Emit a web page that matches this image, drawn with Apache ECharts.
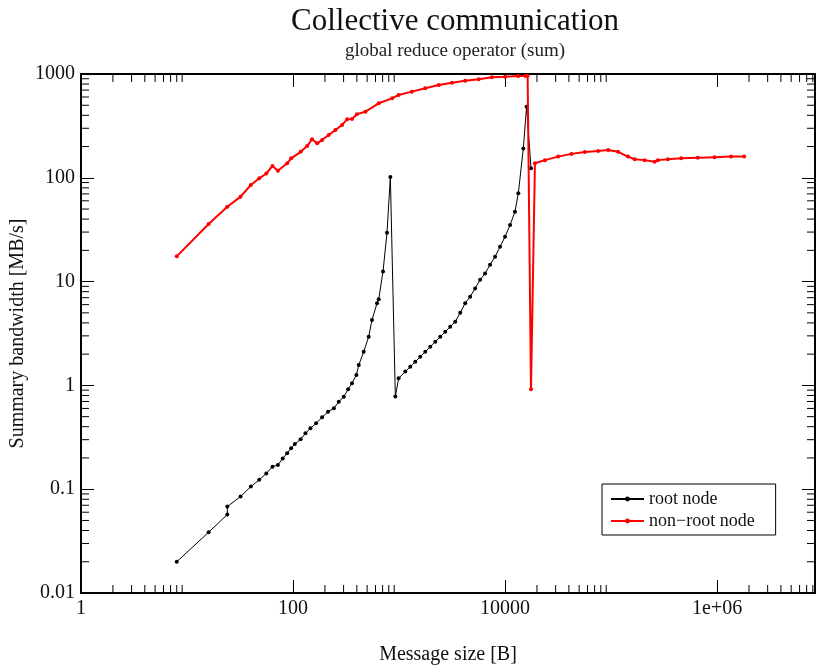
<!DOCTYPE html>
<html>
<head>
<meta charset="utf-8">
<script src="https://cdn.jsdelivr.net/npm/echarts@6/dist/echarts.min.js"></script>
<style>
    html, body { margin: 0; padding: 0; background: #fff; }
    #chart { width: 820px; height: 665px; }
</style>
</head>
<body>
<div id="chart"></div>
<script>
// Root node: message size [B] and bandwidth [MB/s]
const rootSize = [8, 16, 24, 24, 32, 40, 48, 56, 64, 72, 80, 88, 96, 104, 118, 131, 146, 165, 188, 214,
    243, 270, 301, 331, 360, 396, 417, 464, 517, 556, 620, 643, 706, 770, 828,
    923, 991, 1146, 1277, 1423, 1586, 1767, 1971, 2197, 2449, 2729, 3041, 3388, 3776, 4207,
    4688, 5221, 5818, 6484, 7226, 8052, 8974, 10000, 11150, 12400, 13340, 14870, 15960, 17570];
const rootBw = [0.02, 0.0385, 0.057, 0.068, 0.085, 0.106, 0.123, 0.142, 0.165, 0.171, 0.198, 0.222, 0.248, 0.272, 0.303, 0.345, 0.386, 0.431, 0.492, 0.558,
    0.601, 0.697, 0.778, 0.917, 1.05, 1.26, 1.57, 2.11, 2.94, 4.27, 6.18, 6.75, 12.5, 29.6, 102,
    0.78, 1.17, 1.36, 1.51, 1.69, 1.89, 2.11, 2.36, 2.64, 2.94, 3.29, 3.67, 4.11, 5.0, 6.18,
    7.16, 8.6, 10.4, 12.0, 14.5, 17.4, 21.7, 27.1, 35.1, 47.1, 70.9, 192, 484, 123.5];

// Non-root node
const nonRootSize = [8, 16, 24, 32, 40, 48, 56, 64, 72, 88, 96, 118, 136, 151, 169, 188, 217, 251, 290, 324,
    360, 400, 482, 643, 860, 991, 1320, 1767, 2370, 3161, 4207, 5630, 7520, 10000, 13340, 15500, 16330,
    17570, 19140, 23780, 31700, 42300, 56600, 75500, 93800, 116500, 144400, 167000, 207500, 257700,
    276800, 343700, 458600, 657900, 946000, 1355000, 1800000];
const nonRootBw = [17.5, 35.9, 52.7, 65.8, 85.3, 98.9, 110, 130, 117, 138, 154, 178, 202, 235, 215, 231, 258, 289, 323, 366,
    368, 409, 434, 522, 583, 628, 676, 729, 783, 825, 863, 889, 929, 942, 957, 957, 960,
    0.92, 138, 148, 160, 170, 177, 181, 185, 178, 160, 151, 148, 143,
    148, 151, 154, 156, 158, 160, 160];

// Axis ranges and minor tick values
const xMin = 1;
const xMax = 8388608;
const yMin = 0.01;
const yMax = 1000;
const xMinorTicks = [2, 3, 4, 5, 6, 7, 8, 9, 200, 300, 400, 500, 600, 700, 800, 900,
    20000, 30000, 40000, 50000, 60000, 70000, 80000, 90000, 2e6, 3e6, 4e6, 5e6, 6e6, 7e6, 8e6];
const yMinorTicks = [0.02, 0.03, 0.04, 0.05, 0.06, 0.07, 0.08, 0.09, 0.2, 0.3, 0.4, 0.5, 0.6, 0.7, 0.8, 0.9,
    2, 3, 4, 5, 6, 7, 8, 9, 20, 30, 40, 50, 60, 70, 80, 90, 200, 300, 400, 500, 600, 700, 800, 900];

const fontFamily = '"Liberation Serif", "DejaVu Serif", serif';
const minorLength = 8;

const chart = echarts.init(document.getElementById('chart'));

// Labels like xmgrace: 0.01, 1, 100, 1e+06
function powerLabel(value) {
    const lg = Math.log10(value);
    const exp = Math.round(lg);
    if (Math.abs(lg - exp) > 1e-6) return '';
    if (exp >= 5) return '1e+' + String(exp).padStart(2, '0');
    if (exp < 0) return Math.pow(10, exp).toFixed(-exp);
    return String(Math.pow(10, exp));
}

function xMinorTick(params, api) {
    const cs = params.coordSys;
    const x = api.coord([api.value(0), 1])[0];
    const style = { stroke: '#000', lineWidth: 1 };
    return {
        type: 'group',
        children: [
            { type: 'line', shape: { x1: x, y1: cs.y + cs.height, x2: x, y2: cs.y + cs.height - minorLength }, style },
            { type: 'line', shape: { x1: x, y1: cs.y, x2: x, y2: cs.y + minorLength }, style }
        ]
    };
}

function yMinorTick(params, api) {
    const cs = params.coordSys;
    const y = api.coord([1, api.value(1)])[1];
    const style = { stroke: '#000', lineWidth: 1 };
    return {
        type: 'group',
        children: [
            { type: 'line', shape: { x1: cs.x, y1: y, x2: cs.x + minorLength, y2: y }, style },
            { type: 'line', shape: { x1: cs.x + cs.width, y1: y, x2: cs.x + cs.width - minorLength, y2: y }, style }
        ]
    };
}

const axisLine = { show: true, lineStyle: { color: '#000', width: 2 } };
const axisTick = { show: true, inside: true, length: 13, lineStyle: { color: '#000', width: 1 } };

const xAxisBase = {
    type: 'log',
    logBase: 100,
    min: xMin,
    max: xMax,
    axisLine: axisLine,
    axisTick: axisTick,
    splitLine: { show: false },
    minorTick: { show: false }
};

const yAxisBase = {
    type: 'log',
    logBase: 10,
    min: yMin,
    max: yMax,
    axisLine: axisLine,
    axisTick: axisTick,
    splitLine: { show: false }
};

const options = {
    backgroundColor: '#fff',
    animation: false,
    title: {
        text: 'Collective communication',
        subtext: 'global reduce operator (sum)',
        left: 455,
        textAlign: 'center',
        top: 6,
        padding: 0,
        itemGap: 5,
        textStyle: { fontFamily, fontSize: 31, fontWeight: 'normal', color: '#111' },
        subtextStyle: { fontFamily, fontSize: 19, color: '#222' }
    },
    legend: {
        data: ['root node', 'non\u2212root node'],
        orient: 'vertical',
        left: 602,
        top: 484,
        padding: [6, 21, 5, 8],
        itemGap: 4,
        itemWidth: 33,
        itemHeight: 6,
        borderColor: '#000',
        borderWidth: 1,
        borderRadius: 0,
        textStyle: { fontFamily, fontSize: 18, color: '#111' }
    },
    grid: {
        left: 81,
        right: 5,
        top: 74,
        bottom: 72,
        outerBoundsMode: 'none'
    },
    xAxis: [
        {
            ...xAxisBase,
            position: 'bottom',
            name: 'Message size [B]',
            nameLocation: 'middle',
            nameGap: 52,
            nameMoveOverlap: false,
            nameTextStyle: { fontFamily, fontSize: 20, color: '#111' },
            axisLabel: {
                margin: 6,
                fontFamily,
                fontSize: 20,
                color: '#111',
                formatter: powerLabel
            }
        },
        {
            ...xAxisBase,
            position: 'top',
            axisLabel: { show: false }
        }
    ],
    yAxis: [
        {
            ...yAxisBase,
            position: 'left',
            name: 'Summary bandwidth [MB/s]',
            nameLocation: 'middle',
            nameGap: 53,
            nameMoveOverlap: false,
            nameTextStyle: { fontFamily, fontSize: 20, color: '#111' },
            axisLabel: {
                margin: 6,
                fontFamily,
                fontSize: 20,
                color: '#111',
                formatter: powerLabel
            }
        },
        {
            ...yAxisBase,
            position: 'right',
            axisLabel: { show: false }
        }
    ],
    series: [
        {
            name: 'root node',
            type: 'line',
            color: '#000',
            symbol: 'circle',
            symbolSize: 4,
            lineStyle: { width: 1, color: '#000' },
            data: rootSize.map((s, i) => [s, rootBw[i]]),
            z: 3
        },
        {
            name: 'non\u2212root node',
            type: 'line',
            color: '#ff0000',
            symbol: 'circle',
            symbolSize: 4,
            lineStyle: { width: 2, color: '#ff0000' },
            data: nonRootSize.map((s, i) => [s, nonRootBw[i]]),
            z: 4
        },
        {
            type: 'custom',
            silent: true,
            renderItem: xMinorTick,
            data: xMinorTicks.map(v => [v, 1]),
            z: 1
        },
        {
            type: 'custom',
            silent: true,
            renderItem: yMinorTick,
            data: yMinorTicks.map(v => [1, v]),
            z: 1
        }
    ]
};

chart.setOption(options);
</script>
</body>
</html>
